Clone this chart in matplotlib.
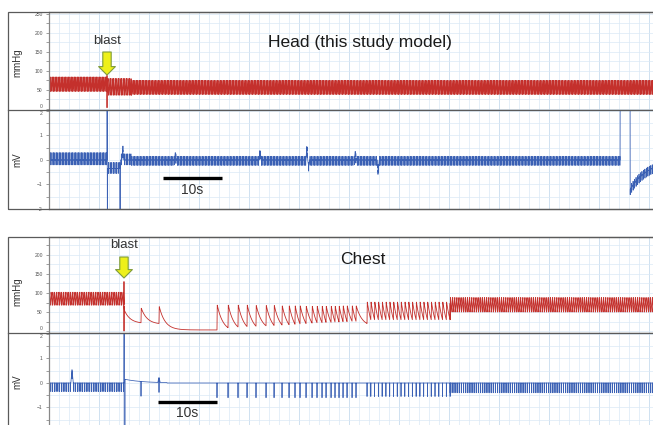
import numpy as np
import matplotlib
matplotlib.use("Agg")
import matplotlib.pyplot as plt
from matplotlib.ticker import MultipleLocator, FixedLocator
from matplotlib.patches import Rectangle
from matplotlib.lines import Line2D
import matplotlib.transforms as mtransforms

plt.rcParams['font.family'] = ['Liberation Sans', 'DejaVu Sans']

INF = np.inf
# ------------------------------------------------------------------ data
T_END = 103.5          # s shown (right edge lies just outside the image)
DT = 0.005             # s sampling step
SCALE_BAR_S = 10       # s

# ---- Head (this study model)
head_title = "Head (this study model)"
head_blast_t = 9.83
head_bp_t0 = [0.0, 9.83, 14.0]          # regular pressure segments
head_bp_t1 = [9.83, 14.0, T_END]
head_bp_period = [0.25, 0.27, 0.25]
head_bp_sys = [84, 80, 75]
head_bp_dia = [46, 36, 38]
head_bp_blast = [88, 3]                 # blast spike max / min (mmHg)
head_ecg_up = [0.30, 0.25, 0.15]        # per-segment beat deflections (mV)
head_ecg_dn = [-0.20, -0.20, -0.22]
head_ecg_off_t0 = [9.83, 9.87, 9.93, 12.00, 96.8, 98.5]
head_ecg_off_t1 = [9.87, 9.93, 12.00, 12.10, 98.5, T_END]
head_ecg_off_v = [3.0, -3.0, -0.35, -3.0, 3.0, -1.2]
head_ecg_off_tau = [INF, INF, INF, INF, INF, 3.0]
head_ecg_bump_t = [12.5, 21.4, 35.8, 43.7, 44.0, 51.9, 55.8]
head_ecg_bump_v = [0.40, 0.30, 0.35, 0.55, -0.25, 0.35, -0.50]

# ---- Chest
chest_title = "Chest"
chest_blast_t = 12.71
chest_bp_t0 = [0.0, 53.9, 68.0]
chest_bp_t1 = [12.71, 68.0, T_END]
chest_bp_period = [0.30, 0.64, 0.32]
chest_bp_sys = [102, 76, 88]
chest_bp_dia = [68, 30, 50]
chest_bp_blast = [130, 0]               # blast spike max / min (mmHg)
# irregular beats after the blast (first entry = post-blast decay)
chest_beat_t = [12.71, 15.59, 18.64, 28.47, 30.34, 32.03, 33.56, 35.08, 36.78,
                38.14, 39.49, 40.68, 41.69, 42.54, 43.56, 44.58, 45.42, 46.27,
                46.95, 47.80, 48.47, 49.15, 49.83, 50.51, 51.36, 52.03]
chest_beat_peak = [55, 60, 64, 68, 68, 68, 68, 67, 67, 67, 66, 66, 66, 66, 65,
                   65, 65, 65, 65, 65, 65, 65, 66, 66, 66, 66]
chest_beat_trough = [22, 20, 3, 9, 11, 12, 13, 14, 15, 16, 17, 18, 19, 20, 21,
                     22, 22, 23, 23, 24, 24, 25, 25, 26, 26, 20]
chest_ecg_dn = [-0.35, -0.55, -0.40]    # per regular segment
chest_ecg_irr_dn = -0.60
chest_ecg_off_t0 = [12.71, 12.74, 12.90]
chest_ecg_off_t1 = [12.74, 12.90, 20.0]
chest_ecg_off_v = [3.0, -3.0, 0.15]
chest_ecg_off_tau = [INF, INF, 3.0]
chest_ecg_bump_t = [3.9, 18.64]
chest_ecg_bump_v = [0.55, 0.20]

# ------------------------------------------------------------------ builders
t = np.arange(0.0, T_END, DT)


def regular_beats(t0s, t1s, periods, a, b):
    bt, pa, pb, seg = [], [], [], []
    for i, (t0, t1, per) in enumerate(zip(t0s, t1s, periods)):
        times = np.arange(t0, t1 - 1e-9, per)
        bt += list(times)
        pa += [a[i]] * len(times)
        pb += [b[i]] * len(times)
        seg += [i] * len(times)
    return bt, pa, pb, seg


def pressure(beats, peaks, troughs, tau):
    order = np.argsort(beats)
    beats = np.asarray(beats)[order]
    peaks = np.asarray(peaks, float)[order]
    troughs = np.asarray(troughs, float)[order]
    p = np.full_like(t, np.nan)
    for i, tb in enumerate(beats):
        te = beats[i + 1] if i + 1 < len(beats) else T_END + DT
        T = te - tb
        m = (t >= tb) & (t < te)
        s = t[m] - tb
        rise = min(0.05, 0.2 * T)
        prev = troughs[i - 1] if i > 0 else troughs[i]
        Td = T - rise
        dec = (np.exp(-(s - rise) / tau) - np.exp(-Td / tau)) / (1 - np.exp(-Td / tau))
        v = np.where(s < rise, prev + (peaks[i] - prev) * s / rise,
                     troughs[i] + (peaks[i] - troughs[i]) * dec)
        p[m] = v
    return p


def idx(tt):
    return int(round(tt / DT))


def apply_offsets(y, t0s, t1s, vals, taus):
    for t0, t1, v, tau in zip(t0s, t1s, vals, taus):
        m = (t >= t0) & (t < t1)
        if np.isinf(tau):
            y[m] += v
        else:
            y[m] += v * np.exp(-(t[m] - t0) / tau)


def apply_bumps(y, ts, vs, width=0.3):
    for tb, v in zip(ts, vs):
        m = np.abs(t - tb) < width / 2
        y[m] += v * (1 - np.abs(t[m] - tb) / (width / 2))


# Head pressure
hb, hs, hd, hseg = regular_beats(head_bp_t0, head_bp_t1, head_bp_period, head_bp_sys, head_bp_dia)
head_p = pressure(hb, hs, hd, 0.3)
i0 = idx(head_blast_t)
head_p[i0] = head_bp_blast[0]
head_p[i0 + 1] = head_bp_blast[1]

# Head ECG
head_e = np.zeros_like(t)
for tb, sg in zip(hb, hseg):
    k = idx(tb)
    if k + 2 < len(t):
        head_e[k] += head_ecg_up[sg]
        head_e[k + 2] += head_ecg_dn[sg]
apply_offsets(head_e, head_ecg_off_t0, head_ecg_off_t1, head_ecg_off_v, head_ecg_off_tau)
apply_bumps(head_e, head_ecg_bump_t, head_ecg_bump_v)

# Chest pressure
cb, cs, cd, cseg = regular_beats(chest_bp_t0, chest_bp_t1, chest_bp_period, chest_bp_sys, chest_bp_dia)
all_b = cb + chest_beat_t
all_pk = cs + chest_beat_peak
all_tr = cd + chest_beat_trough
chest_p = pressure(all_b, all_pk, all_tr, 1.0)
i0 = idx(chest_blast_t)
chest_p[i0] = chest_bp_blast[0]
chest_p[i0 + 1] = chest_bp_blast[1]

# Chest ECG
chest_e = np.zeros_like(t)
for tb, sg in zip(cb, cseg):
    k = idx(tb)
    if k + 1 < len(t):
        chest_e[k + 1] += chest_ecg_dn[sg]
for tb in chest_beat_t[1:]:
    chest_e[idx(tb) + 1] += chest_ecg_irr_dn
apply_offsets(chest_e, chest_ecg_off_t0, chest_ecg_off_t1, chest_ecg_off_v, chest_ecg_off_tau)
apply_bumps(chest_e, chest_ecg_bump_t, chest_ecg_bump_v, width=0.4)

# ------------------------------------------------------------------ figure
W, H = 653, 425
fig = plt.figure(figsize=(W / 100, H / 100), dpi=100)


def fx(px):
    return px / W


def fy(py):
    return 1 - py / H


LEFT = 49
RIGHT = 49 + T_END * 5.9
RED = '#c4302c'
BLUE = '#3a60b4'
GRID_MIN = '#dbe9f5'
GRID_MAJ = '#c8dcee'
FRAME = '#5a5a5a'


def make_ax(top_px, bot_px, ylim, ymaj, ymin, labels):
    ax = fig.add_axes([fx(LEFT), fy(bot_px), fx(RIGHT) - fx(LEFT), (bot_px - top_px) / H])
    ax.set_xlim(0, T_END)
    ax.set_ylim(*ylim)
    ax.xaxis.set_major_locator(MultipleLocator(50 / 5.9))
    ax.xaxis.set_minor_locator(MultipleLocator(10 / 5.9))
    ax.yaxis.set_major_locator(FixedLocator(labels))
    ax.yaxis.set_minor_locator(MultipleLocator(ymin))
    ax.grid(which='minor', color=GRID_MIN, lw=0.5)
    ax.grid(which='major', axis='x', color=GRID_MAJ, lw=0.6)
    ax.grid(which='major', axis='y', color=GRID_MIN, lw=0.5)
    ax.set_axisbelow(True)
    ax.tick_params(axis='x', which='both', length=0, labelbottom=False)
    ax.tick_params(axis='y', which='both', direction='out', length=2.5, width=0.5,
                   colors='#777777', labelsize=3.6, pad=2, labelcolor='#555555')
    for sp in ax.spines.values():
        sp.set_color(FRAME)
        sp.set_linewidth(0.9)
    ax.spines['left'].set_color('#888888')
    return ax


ax_hp = make_ax(12, 110, (-3, 255), 50, 25, [0, 50, 100, 150, 200, 250])
ax_he = make_ax(110, 209, (-2.0, 2.04), 1, 0.5, [-2, -1, 0, 1, 2])
ax_cp = make_ax(237, 333, (-5, 247), 50, 25, [0, 50, 100, 150, 200])
ax_ce = make_ax(333, 432, (-2.0, 2.04), 1, 0.5, [-1, 0, 1, 2])

# nudge the labels that meet at the dividers so they do not sit on each other
for ax in (ax_hp, ax_cp):
    ax.get_yticklabels()[0].set_va('bottom')
for ax in (ax_he, ax_ce):
    ax.get_yticklabels()[-1].set_va('top')

ax_hp.plot(t, head_p, color=RED, lw=0.6)
ax_he.plot(t, head_e, color=BLUE, lw=0.55)
ax_cp.plot(t, chest_p, color=RED, lw=0.6)
ax_ce.plot(t, chest_e, color=BLUE, lw=0.55)

# outer frames and dividers in the label column
for top_px, bot_px in [(12, 209), (237, 445)]:
    fig.patches.append(Rectangle((fx(8), fy(bot_px)), fx(680) - fx(8), (bot_px - top_px) / H,
                                 transform=fig.transFigure, fill=False, ec=FRAME, lw=0.9))
for py in (110, 333):
    fig.lines.append(Line2D([fx(8), fx(LEFT)], [fy(py), fy(py)], transform=fig.transFigure,
                            color=FRAME, lw=0.9))

# axis unit labels
for txt, py in [('mmHg', 63), ('mV', 160), ('mmHg', 292), ('mV', 382)]:
    fig.text(fx(17), fy(py), txt, rotation=90, ha='center', va='center', fontsize=7,
             color='#333333')

# titles
fig.text(fx(360), fy(42), head_title, ha='center', va='center', fontsize=12.5, color='#1a1a1a')
fig.text(fx(363), fy(260), chest_title, ha='center', va='center', fontsize=12.5, color='#1a1a1a')


# blast labels and arrows
def blast_mark(ax, tb, text_y, tail_y, tip_y):
    tr = mtransforms.blended_transform_factory(ax.transData, ax.transAxes)
    ax.text(tb, text_y, 'blast', transform=tr, ha='center', va='center', fontsize=9.5,
            color='#333333')
    ax.annotate('', xy=(tb, tip_y), xycoords=tr, xytext=(tb, tail_y), textcoords=tr,
                arrowprops=dict(arrowstyle='simple,head_length=0.55,head_width=1.1,tail_width=0.55',
                                fc='#eef01a', ec='#7f9c3c', lw=0.8, mutation_scale=11,
                                shrinkA=0, shrinkB=0))


blast_mark(ax_hp, head_blast_t, (110 - 41) / 98, (110 - 52) / 98, (110 - 75) / 98)
blast_mark(ax_cp, chest_blast_t, (333 - 245) / 96, (333 - 257) / 96, (333 - 278) / 96)


# 10 s scale bars
def scale_bar(ax, t0, bar_y, text_y):
    tr = mtransforms.blended_transform_factory(ax.transData, ax.transAxes)
    ax.plot([t0, t0 + SCALE_BAR_S], [bar_y, bar_y], transform=tr, color='black', lw=2.4,
            solid_capstyle='butt')
    ax.text(t0 + SCALE_BAR_S / 2, text_y, '%ds' % SCALE_BAR_S, transform=tr, ha='center',
            va='center', fontsize=10, color='#333333')


scale_bar(ax_he, (163 - LEFT) / 5.9, (209 - 178) / 99, (209 - 190) / 99)
scale_bar(ax_ce, (158 - LEFT) / 5.9, (432 - 402) / 99, (432 - 413) / 99)

fig.savefig('out.png', dpi=100)
